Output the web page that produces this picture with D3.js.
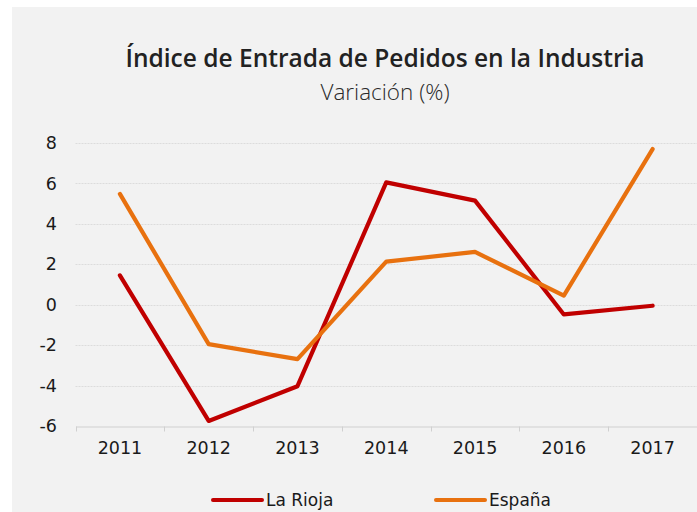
<!DOCTYPE html>
<html>
<head>
<meta charset="utf-8">
<script src="https://cdn.jsdelivr.net/npm/d3@7"></script>
<style>
  body { margin: 0; background: #fff; }
  svg { display: block; }
</style>
</head>
<body>
<svg width="697" height="512"></svg>
<script>
const years = ["2011", "2012", "2013", "2014", "2015", "2016", "2017"];
const laRioja = [1.45, -5.75, -4.03, 6.05, 5.15, -0.48, -0.05];
const espana = [5.48, -1.95, -2.69, 2.13, 2.61, 0.45, 7.7];
const yTicks = [-6, -4, -2, 0, 2, 4, 6, 8];

const series = [
  { name: "La Rioja", values: laRioja, color: "#c00000" },
  { name: "España", values: espana, color: "#e8710f" }
];

const svg = d3.select("svg"),
      width = 697,
      height = 512;

// grey chart background
svg.append("rect")
    .attr("x", 12).attr("y", 7)
    .attr("width", width - 12).attr("height", height - 7)
    .attr("fill", "#f2f2f2");

const x = d3.scaleBand()
    .domain(years)
    .range([75.5, 697]);

const y = d3.scaleLinear()
    .domain([-6, 8])
    .range([426, 143]);

// gridlines
svg.append("g")
    .selectAll("line")
    .data(yTicks.filter(d => d !== -6))
    .enter().append("line")
    .attr("x1", 75.5).attr("x2", 697)
    .attr("y1", d => Math.round(y(d)) + 0.5)
    .attr("y2", d => Math.round(y(d)) + 0.5)
    .attr("stroke", "#dcdcdc")
    .attr("stroke-width", 1)
    .attr("stroke-dasharray", "2,1");

// y axis labels
const yAxis = svg.append("g")
    .attr("transform", "translate(57,0)")
    .call(d3.axisLeft(y).tickValues(yTicks).tickSize(0).tickPadding(0)
        .tickFormat(d => String(d)));
yAxis.select(".domain").remove();
yAxis.selectAll("text")
    .attr("font-family", "DejaVu Sans, Verdana, sans-serif")
    .attr("font-size", 17.5)
    .attr("fill", "#1a1a1a");

// x axis
const xAxis = svg.append("g")
    .attr("transform", `translate(0,${Math.round(y(-6)) + 0.5})`)
    .call(d3.axisBottom(x).tickSize(0).tickPadding(15));
xAxis.select(".domain")
    .attr("stroke", "#d0d0d0");
xAxis.selectAll("text")
    .attr("font-family", "DejaVu Sans, Verdana, sans-serif")
    .attr("font-size", 17.5)
    .attr("fill", "#1a1a1a");

// band boundary ticks
svg.append("g")
    .selectAll("line")
    .data(years)
    .enter().append("line")
    .attr("x1", d => Math.round(x(d)) + 0.5)
    .attr("x2", d => Math.round(x(d)) + 0.5)
    .attr("y1", Math.round(y(-6)) + 0.5)
    .attr("y2", Math.round(y(-6)) + 5.5)
    .attr("stroke", "#d0d0d0");

const line = d3.line()
    .x((d, i) => x(years[i]) + x.bandwidth() / 2)
    .y(d => y(d));

svg.append("g")
    .selectAll("path")
    .data(series)
    .enter().append("path")
    .attr("d", d => line(d.values))
    .attr("fill", "none")
    .attr("stroke", d => d.color)
    .attr("stroke-width", 4.2)
    .attr("stroke-linejoin", "round")
    .attr("stroke-linecap", "round");

// titles
svg.append("text")
    .attr("x", 385).attr("y", 67)
    .attr("text-anchor", "middle")
    .attr("font-family", "Open Sans, Noto Sans, sans-serif")
    .attr("font-weight", 600)
    .attr("font-size", 24.5)
    .attr("fill", "#222")
    .text("Índice de Entrada de Pedidos en la Industria");

svg.append("text")
    .attr("x", 385).attr("y", 100)
    .attr("text-anchor", "middle")
    .attr("font-family", "Open Sans, Noto Sans, sans-serif")
    .attr("font-weight", 300)
    .attr("font-size", 22.5)
    .attr("fill", "#2a2a2a")
    .text("Variación (%)");

// legend
const legendX = [213, 436];
const legend = svg.append("g")
    .selectAll("g")
    .data(series)
    .enter().append("g")
    .attr("transform", (d, i) => `translate(${legendX[i]},500)`);

legend.append("line")
    .attr("x1", 0).attr("x2", 49)
    .attr("stroke", d => d.color)
    .attr("stroke-width", 4)
    .attr("stroke-linecap", "round");

legend.append("text")
    .attr("x", 53).attr("y", 6)
    .attr("font-family", "DejaVu Sans, Verdana, sans-serif")
    .attr("font-size", 17)
    .attr("fill", "#1a1a1a")
    .text(d => d.name);
</script>
</body>
</html>
